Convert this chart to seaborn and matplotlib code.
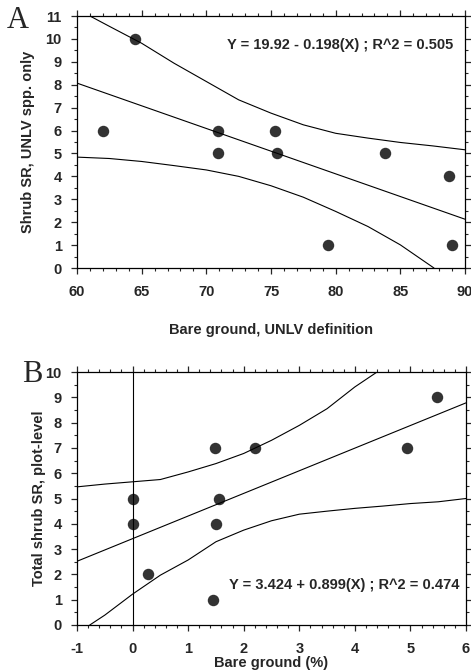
import numpy as np
import pandas as pd
import matplotlib
matplotlib.use("Agg")
import matplotlib.pyplot as plt
import seaborn as sns
from matplotlib.ticker import MultipleLocator

# Panel A: shrub SR vs bare ground (UNLV definition)
a_bare = [62.0, 64.5, 70.9, 70.9, 75.3, 75.5, 79.4, 83.8, 88.8, 89.0]
a_sr = [6, 10, 6, 5, 6, 5, 1, 5, 4, 1]
# confidence bands
a_up_x = [61.0, 62.5, 65.0, 67.5, 70.0, 72.5, 75.0, 77.5, 80.0, 82.5, 85.0, 87.5, 90.0]
a_up_y = [11.0, 10.55, 9.81, 8.94, 8.14, 7.34, 6.76, 6.25, 5.88, 5.67, 5.48, 5.33, 5.16]
a_lo_x = [60.0, 62.5, 65.0, 67.5, 70.0, 72.5, 75.0, 77.5, 80.0, 82.5, 85.0, 87.6]
a_lo_y = [4.84, 4.78, 4.65, 4.47, 4.28, 4.00, 3.59, 3.09, 2.47, 1.81, 1.01, 0.0]

# Panel B: total shrub SR vs bare ground (%)
b_bare = [0.0, 0.0, 0.27, 1.45, 1.48, 1.50, 1.55, 2.21, 4.93, 5.47]
b_sr = [5, 4, 2, 1, 7, 4, 5, 7, 7, 9]
b_up_x = [-1.0, -0.5, 0.0, 0.5, 1.0, 1.5, 2.0, 2.5, 3.0, 3.5, 4.0, 4.4]
b_up_y = [5.46, 5.57, 5.66, 5.75, 6.05, 6.38, 6.78, 7.30, 7.89, 8.55, 9.41, 10.0]
b_lo_x = [-0.77, -0.5, 0.0, 0.5, 1.0, 1.5, 2.0, 2.5, 3.0, 3.5, 4.0, 4.5, 5.0, 5.5, 6.0]
b_lo_y = [0.0, 0.39, 1.22, 1.97, 2.57, 3.29, 3.75, 4.12, 4.38, 4.50, 4.61, 4.70, 4.80, 4.87, 5.0]

sns.set_style("ticks")
plt.rcParams["font.family"] = ["Liberation Sans", "DejaVu Sans"]
plt.rcParams["font.weight"] = "bold"
plt.rcParams["axes.unicode_minus"] = False

fig = plt.figure(figsize=(4.71, 6.71), dpi=100)
ax_a = fig.add_axes([77 / 471, 1 - 268 / 671, 388 / 471, 252 / 671])
ax_b = fig.add_axes([77 / 471, 1 - 625 / 671, 389 / 471, 253 / 671])

lw = 0.8
dot = {"s": 68, "color": "black", "edgecolor": "black", "linewidths": 0, "zorder": 3}


def style_axes(ax, xmaj, xmin, ymaj, ymin):
    ax.xaxis.set_major_locator(MultipleLocator(xmaj))
    ax.xaxis.set_minor_locator(MultipleLocator(xmin))
    ax.yaxis.set_major_locator(MultipleLocator(ymaj))
    ax.yaxis.set_minor_locator(MultipleLocator(ymin))
    ax.tick_params(which="major", direction="out", length=4, width=0.9,
                   top=True, right=True, labelsize=10.5)
    ax.tick_params(which="minor", direction="out", length=2.5, width=0.8,
                   top=True, right=True)
    ax.tick_params(axis="x", which="major", pad=8.5)
    ax.tick_params(axis="y", which="major", pad=7)
    for sp in ax.spines.values():
        sp.set_linewidth(0.9)
        sp.set_color("black")
    for lab in ax.get_xticklabels() + ax.get_yticklabels():
        lab.set_fontweight("bold")


# ---- panel A ----
ax_a.set_xlim(60, 90)
ax_a.set_ylim(0, 11)
sns.regplot(x=a_bare, y=a_sr, ax=ax_a, ci=None, truncate=False,
            scatter_kws=dot, line_kws={"color": "black", "lw": lw})
sns.lineplot(x=a_up_x, y=a_up_y, ax=ax_a, color="black", lw=lw)
sns.lineplot(x=a_lo_x, y=a_lo_y, ax=ax_a, color="black", lw=lw)
ax_a.set_xlim(60, 90)
ax_a.set_ylim(0, 11)
style_axes(ax_a, 5, 1, 1, 0.5)
ax_a.set_xlabel("Bare ground, UNLV definition", fontsize=10.5, fontweight="bold")
ax_a.set_ylabel("Shrub SR, UNLV spp. only", fontsize=10.5, fontweight="bold")
ax_a.xaxis.set_label_coords(0.5, -0.218)
ax_a.yaxis.set_label_coords(-0.108, 0.5)
ax_a.text(89.1, 9.75, "Y = 19.92 - 0.198(X) ; R^2 = 0.505", ha="right", va="center",
          fontsize=10.5, fontweight="bold")

# ---- panel B ----
ax_b.set_xlim(-1, 6)
ax_b.set_ylim(0, 10)
ax_b.axvline(0, color="black", lw=lw)
sns.regplot(x=b_bare, y=b_sr, ax=ax_b, ci=None, truncate=False,
            scatter_kws=dot, line_kws={"color": "black", "lw": lw})
sns.lineplot(x=b_up_x, y=b_up_y, ax=ax_b, color="black", lw=lw)
sns.lineplot(x=b_lo_x, y=b_lo_y, ax=ax_b, color="black", lw=lw)
ax_b.set_xlim(-1, 6)
ax_b.set_ylim(0, 10)
style_axes(ax_b, 1, 0.2, 1, 0.5)
ax_b.set_xlabel("Bare ground (%)", fontsize=10.5, fontweight="bold")
ax_b.set_ylabel("Total shrub SR, plot-level", fontsize=10.5, fontweight="bold")
ax_b.xaxis.set_label_coords(0.5, -0.1225)
ax_b.yaxis.set_label_coords(-0.079, 0.5)
ax_b.text(5.89, 1.58, "Y = 3.424 + 0.899(X) ; R^2 = 0.474", ha="right", va="center",
          fontsize=10.5, fontweight="bold")

fig.text(7 / 471, 1 - 28 / 671, "A", family=["Liberation Serif", "DejaVu Serif"],
         fontsize=22, fontweight="normal", ha="left", va="baseline")
fig.text(22 / 471, 1 - 382 / 671, "B", family=["Liberation Serif", "DejaVu Serif"],
         fontsize=22, fontweight="normal", ha="left", va="baseline")

fig.savefig("out.png", dpi=100)
